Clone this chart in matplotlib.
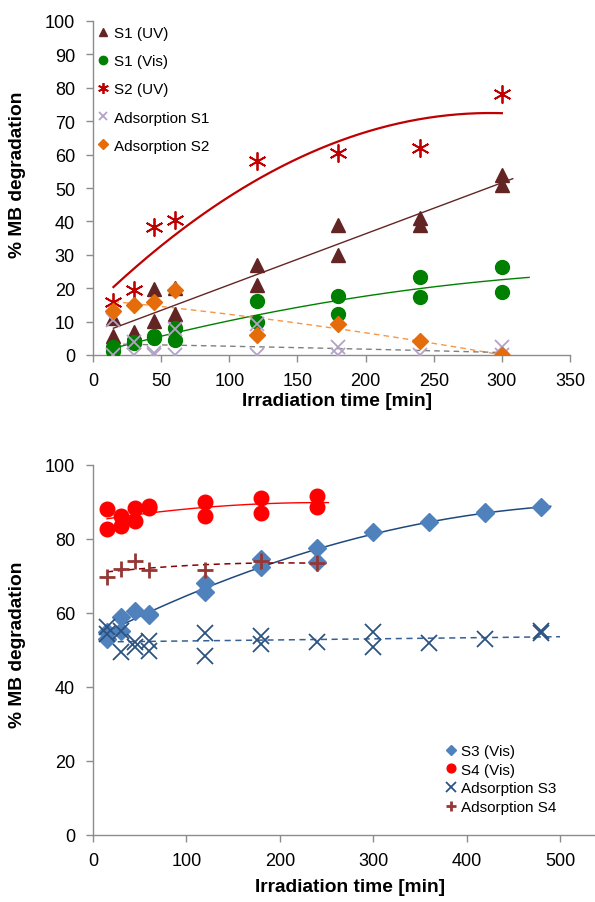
import numpy as np
import matplotlib
matplotlib.use("Agg")
import matplotlib.pyplot as plt

plt.rcParams['font.family'] = ['Liberation Sans', 'DejaVu Sans']

# ---------------- top chart data ----------------
s1uv_t = [15, 15, 30, 30, 45, 45, 60, 60, 120, 120, 180, 180, 240, 240, 300, 300]
s1uv_v = [11, 5.8, 7, 6, 19.8, 10.3, 20, 12.3, 27, 21, 39, 30, 41, 39, 54, 51]

s1vis_t = [15, 15, 30, 30, 45, 45, 60, 60, 120, 120, 180, 180, 240, 240, 300, 300]
s1vis_v = [2.3, 1.2, 4.0, 3.5, 5.8, 5.0, 8.0, 4.5, 16.2, 9.8, 17.8, 12.2, 23.5, 17.5, 26.2, 18.8]

s2uv_t = [15, 30, 45, 60, 120, 180, 240, 300]
s2uv_v = [15.8, 19.5, 38.2, 40.5, 58, 60.5, 62, 78]

ads1_t = [15, 15, 30, 30, 45, 45, 60, 60, 120, 120, 180, 180, 240, 300, 300]
ads1_v = [10.6, 0, 3.8, 0, 0.5, 0, 7.8, 0, 9.3, 0, 2.3, 0, 0, 2.3, 0]

ads2_t = [15, 30, 45, 60, 120, 180, 240, 300]
ads2_v = [13.3, 15, 16, 19.5, 6, 9.3, 4.3, 0]

# ---------------- bottom chart data ----------------
s3_t = [15, 15, 30, 30, 45, 60, 60, 120, 120, 180, 180, 240, 240, 300, 360, 420, 420, 480]
s3_v = [53, 54.8, 58.8, 55.2, 60.6, 59.7, 59.5, 68.1, 65.8, 74.6, 72.3, 77.7, 73.7, 82, 84.5, 87.4, 87, 88.6]

s4_t = [15, 15, 30, 30, 45, 45, 60, 60, 120, 120, 180, 180, 240, 240]
s4_v = [88.1, 82.7, 86.3, 83.6, 88.3, 85, 89, 88.3, 89.9, 86.3, 91, 87, 91.7, 88.6]

ads3_t = [15, 15, 30, 30, 45, 45, 60, 60, 120, 120, 180, 180, 240, 300, 300, 360, 420, 480, 480]
ads3_v = [56.1, 54.3, 49.4, 55.2, 52.1, 50.7, 52.5, 49.8, 54.6, 48.5, 53.9, 51.6, 52.1, 54.8, 50.7, 51.8, 53, 55.2, 54.6]

ads4_t = [15, 30, 45, 60, 120, 180, 240]
ads4_v = [69.6, 72, 74.1, 71.7, 71.7, 74.1, 73.4]

top_xticks = [0, 50, 100, 150, 200, 250, 300, 350]
top_yticks = [0, 10, 20, 30, 40, 50, 60, 70, 80, 90, 100]
bot_xticks = [0, 100, 200, 300, 400, 500]
bot_yticks = [0, 20, 40, 60, 80, 100]

W, H = 595, 903


def trend(ax, t, v, deg, x0, x1, **kw):
    c = np.polyfit(t, v, deg)
    xs = np.linspace(x0, x1, 200)
    ax.plot(xs, np.polyval(c, xs), **kw)


def style(ax):
    for s in ['top', 'right']:
        ax.spines[s].set_visible(False)
    for s in ['left', 'bottom']:
        ax.spines[s].set_color('#8c8c8c')
        ax.spines[s].set_linewidth(1.0)
    ax.tick_params(axis='both', direction='out', length=5, color='#8c8c8c',
                   labelsize=13, width=1.0)
    ax.tick_params(axis='y', pad=8)
    ax.tick_params(axis='x', pad=7)


fig = plt.figure(figsize=(W / 100, H / 100), dpi=100)

# ================= TOP =================
t_left, t_right, t_top, t_bot = 93, 570, 22, 356
ax1 = fig.add_axes([t_left / W, 1 - t_bot / H, (t_right - t_left) / W, (t_bot - t_top) / H])
style(ax1)

trend(ax1, s2uv_t, s2uv_v, 2, 15, 300, color='#c00000', lw=1.6, zorder=2)
trend(ax1, s1uv_t, s1uv_v, 1, 15, 308, color='#632523', lw=1.0, zorder=2)
trend(ax1, s1vis_t, s1vis_v, 2, 15, 320, color='#008000', lw=1.0, zorder=2)
trend(ax1, ads2_t, ads2_v, 2, 15, 310, color='#f79646', lw=1.0, ls=(0, (4, 3)), zorder=2)
trend(ax1, ads1_t, ads1_v, 2, 15, 305, color='#7f7f7f', lw=1.0, ls=(0, (4, 3)), zorder=2)

ax1.plot(s1uv_t, s1uv_v, ls='none', marker='^', ms=10, color='#632523', label='S1 (UV)', zorder=3)
ax1.plot(s1vis_t, s1vis_v, ls='none', marker='o', ms=10, color='#008000', label='S1 (Vis)', zorder=3)
ax1.plot(s2uv_t, s2uv_v, ls='none', marker=(6, 2, 0), ms=13, mew=1.3, color='#c00000', label='S2 (UV)', zorder=3)
ax1.plot(ads1_t, ads1_v, ls='none', marker='x', ms=10, mew=1.3, color='#b3a2c7', label='Adsorption S1', zorder=3)
ax1.plot(ads2_t, ads2_v, ls='none', marker='D', ms=8, color='#e46c0a', label='Adsorption S2', zorder=4)

ax1.set_xlim(0, 350)
ax1.set_ylim(0, 100)
ax1.set_xticks(top_xticks)
ax1.set_yticks(top_yticks)
ax1.set_xlabel('Irradiation time [min]', fontsize=13.8, fontweight='bold')
ax1.set_ylabel('% MB degradation', fontsize=13.8, fontweight='bold')
ax1.xaxis.set_label_coords((337 - t_left) / (t_right - t_left), (t_bot - 393) / (t_bot - t_top))
ax1.yaxis.set_label_coords((26 - t_left) / (t_right - t_left), (t_bot - 175) / (t_bot - t_top))
ax1.legend(loc='upper left', bbox_to_anchor=(-0.005, 1.008), frameon=False, fontsize=11,
           markerscale=0.6, handlelength=0.6, handletextpad=0.4, labelspacing=0.93,
           borderaxespad=0.3, borderpad=0.2)

# ================= BOTTOM =================
b_left, b_right, b_top, b_bot = 93, 595, 466, 836
ax2 = fig.add_axes([b_left / W, 1 - b_bot / H, (b_right - b_left) / W, (b_bot - b_top) / H])
style(ax2)

trend(ax2, s3_t, s3_v, 2, 15, 490, color='#1f497d', lw=1.1, zorder=2)
trend(ax2, s4_t, s4_v, 2, 15, 252, color='#ff0000', lw=1.0, zorder=2)
trend(ax2, ads3_t, ads3_v, 1, 15, 500, color='#366092', lw=1.1, ls=(0, (4, 3)), zorder=2)
trend(ax2, ads4_t, ads4_v, 2, 15, 252, color='#8b0000', lw=1.1, ls=(0, (4, 3)), zorder=2)

ax2.plot(s3_t, s3_v, ls='none', marker='D', ms=9, color='#4f81bd', label='S3 (Vis)', zorder=3)
ax2.plot(s4_t, s4_v, ls='none', marker='o', ms=10.5, color='#ff0000', label='S4 (Vis)', zorder=3)
ax2.plot(ads3_t, ads3_v, ls='none', marker='x', ms=11, mew=1.3, color='#2c5282', label='Adsorption S3', zorder=3)
ax2.plot(ads4_t, ads4_v, ls='none', marker='+', ms=12, mew=2.0, color='#953735', label='Adsorption S4', zorder=3)

ax2.set_xlim(0, (b_right - b_left) / 0.934)
ax2.set_ylim(0, 100)
ax2.set_xticks(bot_xticks)
ax2.set_yticks(bot_yticks)
ax2.set_xlabel('Irradiation time [min]', fontsize=13.8, fontweight='bold')
ax2.set_ylabel('% MB degradation', fontsize=13.8, fontweight='bold')
ax2.xaxis.set_label_coords((350 - b_left) / (b_right - b_left), (b_bot - 879) / (b_bot - b_top))
ax2.yaxis.set_label_coords((26 - b_left) / (b_right - b_left), (b_bot - 645) / (b_bot - b_top))
ax2.legend(loc='upper left', bbox_to_anchor=(446 / W, 1 - 745 / H), bbox_transform=fig.transFigure,
           frameon=False, fontsize=11, markerscale=0.6, handlelength=0.6, handletextpad=0.4,
           labelspacing=0.31, borderaxespad=0.0, borderpad=0.0)

fig.savefig('out.png', dpi=100)
